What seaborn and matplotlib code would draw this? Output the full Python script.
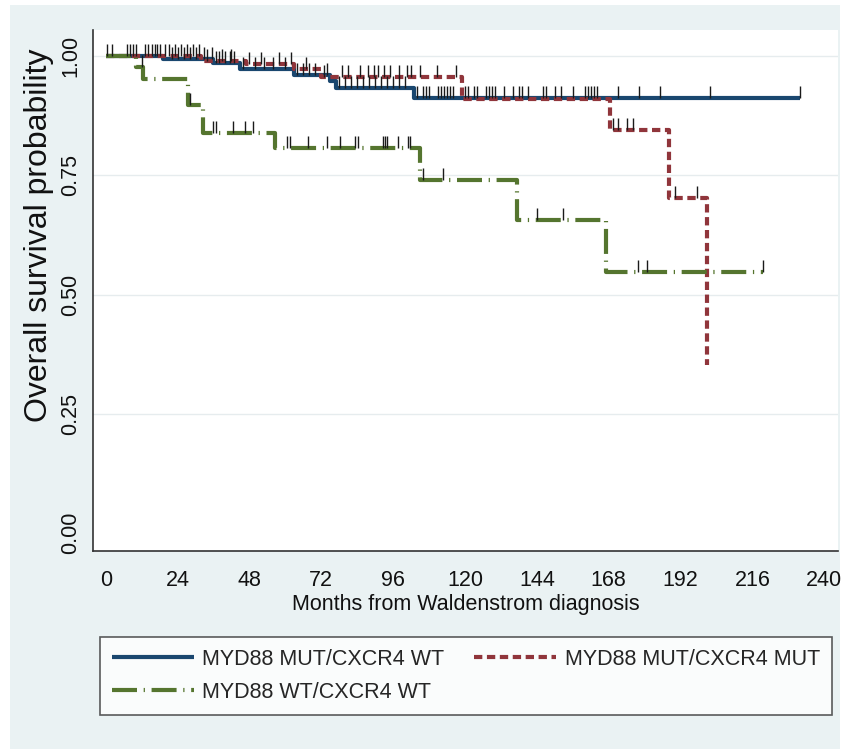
import matplotlib
matplotlib.use("Agg")
import numpy as np
import pandas as pd
import seaborn as sns
import matplotlib.pyplot as plt
from matplotlib.patches import Rectangle

# ---------------- data ----------------
group_names = ["MYD88 MUT/CXCR4 WT", "MYD88 MUT/CXCR4 MUT", "MYD88 WT/CXCR4 WT"]

blue_times = [0, 19, 36, 45, 63, 75, 77, 103, 232]
blue_surv = [1.0, 0.993, 0.986, 0.972, 0.960, 0.947, 0.933, 0.912, 0.912]

red_times = [0, 32, 47, 63, 72, 119, 168.5, 188, 201]
red_surv = [1.0, 0.990, 0.983, 0.972, 0.957, 0.909, 0.845, 0.703, 0.352]

green_times = [0, 10, 12.5, 27.5, 32.5, 56.5, 105, 137.5, 167, 219.5]
green_surv = [1.0, 0.976, 0.952, 0.897, 0.839, 0.807, 0.740, 0.656, 0.548, 0.548]

blue_censor = [0.3, 2, 7, 8, 9, 14, 15.5, 17, 18, 22, 24, 26, 28, 30, 33, 35.5,
               37, 38, 40, 41.5, 43, 46, 50, 53, 56, 60, 64, 66, 68, 70, 74, 78,
               80, 82, 84, 86, 88, 90, 92, 94, 96, 98, 100,
               104, 106, 107, 108, 111, 112, 113, 114, 115, 116, 120, 121, 123,
               124, 127, 128, 129, 130, 133, 136, 138, 139, 141, 146, 147, 150,
               152, 156, 160, 161, 162, 163, 164, 171, 178, 185, 202, 232]
red_censor = [10, 13, 16.5, 19.8, 21, 23, 25, 27, 29, 31, 34, 39, 42, 48, 52,
              58, 62, 67, 73, 79, 81, 85, 87.5, 89.5, 91, 93, 95, 98, 100.5,
              102, 105, 110.5, 117, 169.5, 171, 174, 176, 190, 197.5]
green_censor = [12, 28, 36, 37, 42.6, 46.5, 49.2, 60.5, 61.6, 67.7, 73.8, 78.3,
                83.3, 84.4, 92.6, 93.3, 94, 97.6, 101, 101.6, 106, 112.7, 144,
                152.7, 177.8, 180.8, 219.5]

x_ticks = [0, 24, 48, 72, 96, 120, 144, 168, 192, 216, 240]
y_ticks = [0.0, 0.25, 0.5, 0.75, 1.0]
y_tick_labels = ["0.00", "0.25", "0.50", "0.75", "1.00"]

# ---------------- style ----------------
sns.set_theme(style="white")
fonts = ["Liberation Sans", "DejaVu Sans"]
plt.rcParams["font.family"] = fonts

BG = "#eaf2f3"
colors = ["#1a476f", "#90353b", "#55752f"]
styles = ["-", (0, (2.0, 1.1)), (0, (6.0, 1.6, 0.3, 1.6))]
LW = 3.0
FS = 15.5

fig = plt.figure(figsize=(8.43, 7.49), dpi=100, facecolor="white")
fig.patches.append(Rectangle((10 / 843, 0), 830 / 843, 744 / 749,
                             transform=fig.transFigure, facecolor=BG,
                             edgecolor="none", zorder=-10))
ax = fig.add_axes([93 / 843, 198 / 749, 745 / 843, 521 / 749])
ax.set_facecolor("white")

series = [(blue_times, blue_surv, blue_censor),
          (red_times, red_surv, red_censor),
          (green_times, green_surv, green_censor)]

handles = []
for (t, s, c), name, col, ls in zip(series, group_names, colors, styles):
    df = pd.DataFrame({"time": t, "surv": s})
    sns.lineplot(data=df, x="time", y="surv", drawstyle="steps-post",
                 estimator=None, sort=False, color=col, linewidth=LW,
                 linestyle=ls, dash_capstyle="butt", solid_capstyle="butt",
                 ax=ax, legend=False, zorder=3)
    line = ax.lines[-1]
    handles.append(line)
    # censoring ticks at the curve level
    t_arr = np.asarray(t)
    s_arr = np.asarray(s)
    c_arr = np.asarray(c)
    idx = np.searchsorted(t_arr, c_arr, side="right") - 1
    ax.plot(c_arr, s_arr[idx], linestyle="none", marker=2, markersize=9,
            markeredgewidth=1.0, color="#1a1a1a", zorder=4)

# axes
ax.set_xlim(-4.24, 244.6)
ax.set_ylim(-0.0377, 1.0545)
ax.set_xticks(x_ticks)
ax.set_xticklabels([str(v) for v in x_ticks], fontsize=FS)
ax.set_yticks(y_ticks)
ax.set_yticklabels(y_tick_labels, fontsize=FS, rotation=90, va="center")
for yv in y_ticks[1:]:
    ax.axhline(yv, color="#e6ecee", linewidth=1.0, zorder=1)
for side in ["top", "right"]:
    ax.spines[side].set_visible(False)
for side in ["left", "bottom"]:
    ax.spines[side].set_color("#333333")
    ax.spines[side].set_linewidth(1.2)
ax.tick_params(axis="both", direction="out", length=7, width=1.2,
               color="#333333", labelcolor="#111111")
ax.tick_params(axis="y", pad=1.5)
ax.tick_params(axis="x", pad=7)
ax.set_xlabel("Months from Waldenstrom diagnosis", fontsize=FS,
              color="#111111", labelpad=2)
ax.set_ylabel("Overall survival probability", fontsize=23,
              color="#111111")
ax.yaxis.set_label_coords(-0.052, 0.607)

# legend
order = [0, 2, 1]
leg = fig.legend([handles[i] for i in order], [group_names[i] for i in order],
                 loc="upper left", bbox_to_anchor=(100 / 843, 112 / 749, 732 / 843, 0.0),
                 mode="expand", ncol=2, frameon=True, fancybox=False,
                 fontsize=FS, handlelength=3.8, handletextpad=0.4,
                 labelspacing=0.55, borderpad=0.55, borderaxespad=0.0)
leg.get_frame().set_edgecolor("#333333")
leg.get_frame().set_linewidth(1.2)
leg.get_frame().set_facecolor("white")

fig.savefig("out.png", dpi=100, facecolor=fig.get_facecolor())
